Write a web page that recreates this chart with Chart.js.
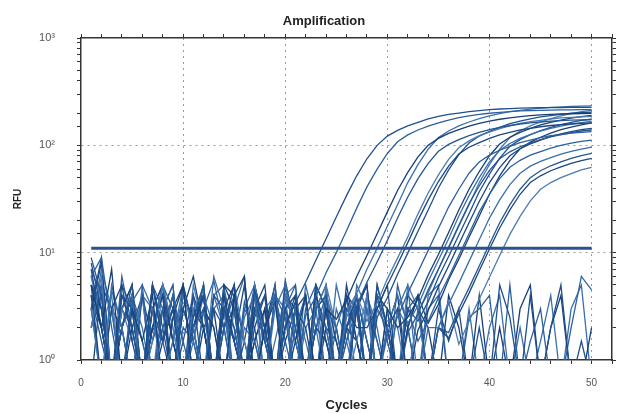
<!DOCTYPE html>
<html>
<head>
<meta charset="utf-8">
<script src="https://cdn.jsdelivr.net/npm/chart.js@4/dist/chart.umd.min.js"></script>
<style>
  body { margin: 0; background: #fff; }
</style>
</head>
<body>
<canvas id="graficaAmplificacion" width="625" height="414"></canvas>
<script>
// ciclos del termociclador
const ciclos = [1,2,3,4,5,6,7,8,9,10,11,12,13,14,15,16,17,18,19,20,21,22,23,24,25,
                26,27,28,29,30,31,32,33,34,35,36,37,38,39,40,41,42,43,44,45,46,47,48,49,50];

// RFU por muestra (0.6 = por debajo de 10^0, se recorta abajo)
const muestra01 = [8,3,0.6,4,2,0.6,5,1.5,3,0.6,2.5,4,0.6,3,1.5,0.6,4.5,2,0.6,2.1,3.4,5.3,8.5,13.5,21.5,34,52,75,100,122,138,152,164,176,186,194,200,206,211,215,218,220,222,223,224,225,225,226,226,226];
const muestra02 = [6,9,2,0.6,3.5,5,0.6,2,4,1.5,0.6,3,5.5,2,0.6,3.5,1.5,0.6,4,2.5,0.6,2.6,3.9,6.5,10,16,26,41,60,84,108,125,139,151,162,172,181,188,194,199,203,206,209,211,212,213,214,214,215,215];
const muestra03 = [5,2,7,0.6,3,1.5,4,0.6,2.5,5,0.6,3,2,0.6,4,6,0.6,2,3.5,0.6,1.5,4,0.6,3,2.4,3.6,6,9.4,15,24,38,56,78,100,116,129,140,151,160,168,175,180,185,189,192,194,196,197,198,199];
const muestra04 = [3,0.6,4.5,2,0.6,5,3,0.6,1.5,4,2,0.6,6,3,0.6,2.5,4,0.6,3,5,1.5,0.6,3.5,2,0.6,2.8,4.2,7,11,17.6,28,45,66,92,118,136,152,165,177,188,197,206,212,217,222,226,228,230,232,233];
const muestra05 = [9,4,0.6,2,5,0.6,3,1.5,0.6,4,2.5,5,0.6,2,3,0.6,4,1.5,0.6,5.5,2,0.6,3,4,0.6,2.1,3.2,5.3,8.2,13,21,33,49,68,88,102,113,123,132,140,147,153,158,162,165,168,170,172,173,174];
const muestra06 = [2,6,0.6,3,4,0.6,1.5,5,2,0.6,3,4.5,0.6,2,3,0.6,5,1.5,0.6,4,2,0.6,3,5,0.6,2.5,4,2.3,3.4,5.7,8.9,14,23,36,53,74,95,110,123,133,143,152,160,166,171,176,180,182,184,186];
const muestra07 = [4,0.6,3,5,1.5,0.6,2,4,0.6,3,6,2,0.6,4,1.5,0.6,3,5,0.6,2,3.5,0.6,4,1.5,0.6,3,2,2,3,5,7.8,12.4,20,31,46,64,83,96,106,116,125,132,139,144,149,153,156,158,160,162];
const muestra08 = [7,2,0.6,4,3,0.6,5,2,0.6,1.5,4,0.6,3,2,5,0.6,2.5,4,0.6,3,1.5,0.6,5,3,0.6,2,4,0.6,2.5,3.8,6.3,9.9,15.8,25,40,59,82,105,122,135,147,159,168,176,184,189,194,199,202,204];
const muestra09 = [3,5,0.6,2,4,1.5,0.6,3,5,0.6,2,3,0.6,4.5,2,0.6,3,1.5,5,0.6,2,4,0.6,3,2,0.6,4,1.5,0.6,1.7,2.5,4.2,6.6,10.5,16.8,26.6,39,55,70,81,90,98,106,112,118,123,126,130,132,134];
const muestra10 = [5,3,0.6,2,4,0.6,5,1.5,3,0.6,2,4,0.6,3,5,0.6,1.5,3,0.6,4,2,0.6,5,3,0.6,2,4,1.5,0.6,3,2,2.5,3.7,6.2,9.6,15.4,25,39,57,80,103,119,132,144,155,164,172,179,185,190];
const muestra11 = [2,7,3,0.6,4,2,0.6,3,5,0.6,1.5,4,2,0.6,3,6,0.6,2,4,0.6,3,1.5,0.6,4,2,0.6,5,3,0.6,2,4,2.2,3.2,5.4,8.5,13.5,22,34,50,70,90,104,116,126,136,144,151,158,163,167];
const muestra12 = [4,1.5,0.6,5,3,0.6,2,4,0.6,3,1.5,5,0.6,2,4,0.6,3,2,0.6,5,1.5,0.6,3,4,0.6,2,3,0.6,4,1.5,0.6,1.8,2.7,4.5,7,11.3,18,28.5,42,58.5,75,87,97,105,113,120,126,131,136,139];
const muestra13 = [6,2,4,0.6,3,1.5,0.6,5,2,0.6,3,4,0.6,2,5,1.5,0.6,3,4,0.6,2,3.5,0.6,5,2,0.6,1.5,4,0.6,3,2,0.6,2.8,4.2,7,11,17.6,28,45,66,92,118,136,152,165,177,188,197,206,212];
const muestra14 = [3,8,0.6,2,4,0.6,3,5,1.5,0.6,4,2,0.6,3,1.5,5,0.6,2,4,0.6,3,2,0.6,4,1.5,0.6,3,5,0.6,2,3,0.6,1.9,2.9,4.8,7.5,12,19,30,45,62,80,93,103,112,121,128,134,140,144];
const muestra15 = [5,0.6,3,2,0.6,4,1.5,3,0.6,5,2,0.6,4,3,0.6,1.5,5,2,0.6,3,4,0.6,2,1.5,0.6,4,3,0.6,5,2,0.6,3,2.3,3.5,5.9,9.2,14.6,23,37,54,76,98,113,126,137,147,156,164,171,175];
const muestra16 = [2,4,0.6,6,2,0.6,3,1.5,4,0.6,2,5,0.6,3,2,0.6,4,1.5,0.6,3,5,0.6,2,4,0.6,1.5,3,0.6,4,2,0.6,3,1.5,2.3,3.8,5.9,9.4,15,24,35,49,62.5,72.5,81,87.5,94,100,105,109,112];
const muestra17 = [4,2,0.6,3,5,0.6,2,1.5,4,0.6,3,2,0.6,5,4,0.6,1.5,3,0.6,2,4,0.6,3,5,0.6,2,1.5,0.6,4,3,0.6,2,4,2.2,3.3,5.6,8.7,13.9,22,35,52,72,93,107,119,130,140,148,155,162];
const muestra18 = [3,0.6,5,2,0.6,4,3,0.6,1.5,5,2,0.6,3,4,0.6,2,1.5,0.6,4,3,0.6,5,2,0.6,3,1.5,0.6,4,2,0.6,3,5,0.6,2,2,3.3,5.2,8.3,13.2,21,31,43,55,64,71,77,83,88,92,96];
const muestra19 = [6,3,0.6,2,4,0.6,1.5,5,3,0.6,2,4,0.6,3,1.5,0.6,5,2,0.6,4,3,0.6,2,1.5,0.6,4,3,0.6,5,2,0.6,3,4,0.6,2,1.8,3,4.7,7.5,12,19,28,39,50,58,64.5,70,75.5,80,84];
const muestra20 = [2,5,0.6,3,1.5,4,0.6,2,3,0.6,5,2,0.6,4,1.5,0.6,3,2,0.6,4,5,0.6,2,3,0.6,1.5,4,0.6,3,2,0.6,5,3,0.6,2,3.5,1.4,2.3,3.7,5.9,9.4,14.8,21.8,30.4,39,45,50,54.6,59,62.4];
const muestra21 = [4,2,0.6,3,5,0.6,2,4,1.5,0.6,3,2,0.6,5,3,0.6,2,4,0.6,1.5,3,0.6,4,2,0.6,5,1.5,0.6,3,2,0.6,4,3,0.6,2,1.6,2.7,4.2,6.8,10.8,17,25,35,45,52,58,63,68,72,75.6];
// muestras sin amplificacion
const negativo1 = [3,9,0.6,2,4,0.6,3,5,1.5,0.6,2,4,0.6,3,2,0.6,5,1.5,0.6,3,4,0.6,2,3,0.6,4,1.5,0.6,3,5,0.6,2,4,0.6,3,1.5,3,0.6,2,0.6,5,2.5,0.6,4,0.6,2,5,0.6,1.5,0.6];
const negativo2 = [7,4,0.6,3,2,0.6,5,3,0.6,2,1.5,0.6,4,5,0.6,3,2,0.6,4,1.5,0.6,3,5,0.6,2,4,0.6,3,1.5,0.6,5,2,0.6,3,4,0.6,0.6,2.5,3,4,0.6,5,0.6,1.5,3,0.6,0.6,2,6,4.5];
const negativo3 = [0.6,5,3,0.6,2,4,0.6,1.5,3,5,0.6,2,3,0.6,4,1.5,0.6,2,5,0.6,3,4,0.6,2,1.5,0.6,3,5,0.6,2,4,0.6,3,2,0.6,4,2,0.6,4,0.6,2,0.6,3,5,0.6,2,4,0.6,0.6,2];
const negativo4 = [5,2,0.6,4,3,0.6,2,5,0.6,3,1.5,0.6,4,2,0.6,3,5,0.6,1.5,4,0.6,2,3,0.6,5,2,0.6,4,1.5,0.6,3,2,0.6,4,5,0.6,0.6,3,0.6,2,4,0.6,2,0.6,1.5,4,0.6,3,5,0.6];

// linea umbral
const umbralCiclos = [1, 50];
const umbralRFU = 11;

const muestras = [muestra01, muestra02, muestra03, muestra04, muestra05, muestra06, muestra07,
                  muestra08, muestra09, muestra10, muestra11, muestra12, muestra13, muestra14,
                  muestra15, muestra16, muestra17, muestra18, muestra19, muestra20, muestra21,
                  negativo1, negativo2, negativo3, negativo4];

const colores = ['#1f4f8f', '#2b609e', '#173f75', '#3a6fab', '#24568f', '#4a7cb3', '#1b4680'];
const fuente = '"Liberation Sans", Arial, sans-serif';
const superindice = ['\u2070', '\u00b9', '\u00b2', '\u00b3'];

const datasets = muestras.map(function(datos, i){
    return {
        data: datos,
        xAxisID: 'x',
        yAxisID: 'y',
        borderColor: colores[i % colores.length],
        borderWidth: 1.3,
        pointRadius: 0,
        fill: false,
        order: 1
    };
});

datasets.push({
    data: umbralCiclos.map(function(c){ return {x: c, y: umbralRFU}; }),
    xAxisID: 'x',
    yAxisID: 'y',
    borderColor: '#2d5189',
    borderWidth: 3,
    pointRadius: 0,
    order: 0
});

// titulo dibujado a mano para centrarlo como en el original
const tituloPlugin = {
    id: 'titulo',
    afterDraw(chart){
        const ctx = chart.ctx;
        ctx.save();
        ctx.font = 'bold 13px ' + fuente;
        ctx.fillStyle = '#222';
        ctx.textAlign = 'center';
        ctx.textBaseline = 'middle';
        ctx.fillText('Amplification', 324, 21);
        ctx.restore();
    }
};

const gridX = function(ctx){
    return ctx.tick && ctx.tick.value % 10 === 0 && ctx.tick.value > 0 && ctx.tick.value <= 50 ? '#9a9a9a' : 'rgba(0,0,0,0)';
};
const gridY = function(ctx){
    return ctx.tick && (ctx.tick.value === 10 || ctx.tick.value === 100) ? '#9a9a9a' : 'rgba(0,0,0,0)';
};

new Chart(document.getElementById('graficaAmplificacion'), {
    type: 'line',
    data: {
        labels: ciclos,
        datasets: datasets
    },
    plugins: [tituloPlugin],
    options: {
        responsive: false,
        animation: false,
        layout: { padding: { top: 32, left: 0, right: 0, bottom: 0 } },
        plugins: {
            legend: { display: false },
            tooltip: { enabled: false }
        },
        scales: {
            x: {
                type: 'linear',
                position: 'bottom',
                min: 0,
                max: 52,
                afterFit(scale){ scale.height = 54; },
                ticks: {
                    stepSize: 2,
                    autoSkip: false,
                    maxRotation: 0,
                    includeBounds: false,
                    padding: 13,
                    color: '#555',
                    font: { family: fuente, size: 10 },
                    callback: function(v){ return v % 10 === 0 && v <= 50 ? String(v) : ''; }
                },
                grid: { color: gridX, tickColor: '#333', tickLength: 4, lineWidth: 1 },
                border: { color: '#333', width: 1.5, dash: [2, 4] },
                title: {
                    display: true,
                    text: 'Cycles',
                    color: '#222',
                    font: { family: fuente, size: 13, weight: 'bold' },
                    padding: { top: 0, bottom: 1 }
                }
            },
            x2: {
                type: 'linear',
                axis: 'x',
                position: 'top',
                min: 0,
                max: 52,
                afterFit(scale){ scale.height = 6; },
                ticks: { display: false, stepSize: 2, autoSkip: false, includeBounds: false },
                grid: { drawOnChartArea: false, tickColor: '#333', tickLength: 4 },
                border: { color: '#333', width: 1.5 }
            },
            y: {
                type: 'logarithmic',
                position: 'left',
                min: 1,
                max: 1000,
                afterFit(scale){ scale.width = 81; },
                ticks: {
                    autoSkip: false,
                    padding: 22,
                    color: '#555',
                    font: { family: fuente, size: 11 },
                    callback: function(v){
                        const e = Math.log10(v);
                        return Math.abs(e - Math.round(e)) < 1e-9 ? '10' + superindice[Math.round(e)] : '';
                    }
                },
                grid: { color: gridY, tickColor: '#333', tickLength: 4, lineWidth: 1 },
                border: { color: '#333', width: 1.5, dash: [2, 4] },
                title: {
                    display: true,
                    text: 'RFU',
                    color: '#222',
                    font: { family: fuente, size: 10, weight: 'bold' },
                    padding: { top: 12, bottom: 0 }
                }
            },
            y2: {
                type: 'logarithmic',
                axis: 'y',
                position: 'right',
                min: 1,
                max: 1000,
                afterFit(scale){ scale.width = 5; },
                ticks: { display: false, autoSkip: false },
                grid: { drawOnChartArea: false, tickColor: '#333', tickLength: 4 },
                border: { color: '#333', width: 1.5 }
            }
        }
    }
});
</script>
</body>
</html>
